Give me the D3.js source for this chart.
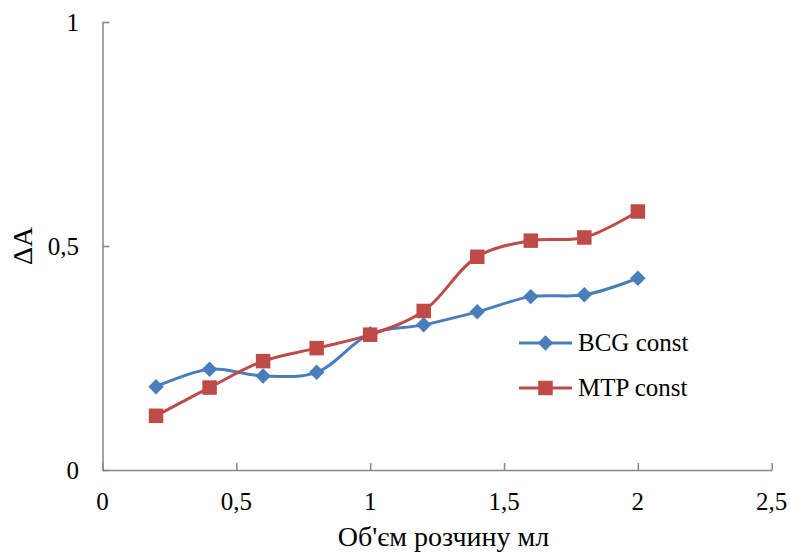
<!DOCTYPE html>
<html>
<head>
<meta charset="utf-8">
<script src="https://cdn.jsdelivr.net/npm/d3@7"></script>
<style>
  html, body { margin: 0; padding: 0; background: #fff; }
</style>
</head>
<body>
<svg id="chart" width="790" height="553"></svg>
<script>
// Volume of solution, ml
const volumes = [0.2, 0.4, 0.6, 0.8, 1.0, 1.2, 1.4, 1.6, 1.8, 2.0];
// ΔA for each series
const bcgValues = [0.186, 0.225, 0.210, 0.218, 0.304, 0.324, 0.353, 0.387, 0.391, 0.428];
const mtpValues = [0.121, 0.184, 0.243, 0.272, 0.302, 0.355, 0.476, 0.512, 0.519, 0.577];
const seriesNames = ["BCG const", "MTP const"];
const xTicks = [0, 0.5, 1, 1.5, 2, 2.5];
const yTicks = [0, 0.5, 1];
const xTitle = "Об'єм розчину мл";
const yTitle = "ΔA";

const FONT = "Liberation Serif";
const fmt = d => String(d).replace(".", ",");

const svg = d3.select("#chart");
const margin = { left: 102.5, right: 790 - 771.7, top: 22, bottom: 553 - 470 };
const x = d3.scaleLinear().domain([0, 2.5]).range([margin.left, 790 - margin.right]);
const y = d3.scaleLinear().domain([0, 1]).range([553 - margin.bottom, margin.top]);

const axisColor = "#868686";

// Diamond drawn as a square rotated 45°, equal width and height
const diamond = {
  draw(ctx, size) {
    const r = Math.sqrt(size / 2);
    ctx.moveTo(0, -r); ctx.lineTo(r, 0); ctx.lineTo(0, r); ctx.lineTo(-r, 0); ctx.closePath();
  }
};

// X axis with ticks pointing inward
const gx = svg.append("g").attr("transform", `translate(0,${y(0)})`)
  .call(d3.axisTop(x).tickValues(xTicks).tickSize(7).tickSizeOuter(0).tickFormat(""));
gx.select(".domain").attr("stroke", axisColor).attr("stroke-width", 1.5);
gx.selectAll(".tick line").attr("stroke", axisColor).attr("stroke-width", 1.5);
svg.append("g").selectAll("text").data(xTicks).join("text")
  .attr("x", d => x(d)).attr("y", y(0) + 40)
  .attr("text-anchor", "middle").attr("font-size", 25).attr("font-family", FONT)
  .text(fmt);

// Y axis with ticks pointing inward
const gy = svg.append("g").attr("transform", `translate(${x(0)},0)`)
  .call(d3.axisRight(y).tickValues(yTicks).tickSize(7).tickSizeOuter(0).tickFormat(""));
gy.select(".domain").attr("stroke", axisColor).attr("stroke-width", 1.5);
gy.selectAll(".tick line").attr("stroke", axisColor).attr("stroke-width", 1.5);
svg.append("g").selectAll("text").data(yTicks).join("text")
  .attr("x", x(0) - 23.5).attr("y", d => y(d) + 8.7)
  .attr("text-anchor", "end").attr("font-size", 25).attr("font-family", FONT)
  .text(fmt);

// Axis titles
svg.append("text").attr("x", 443.5).attr("y", 546)
  .attr("text-anchor", "middle").attr("font-size", 28).attr("font-family", FONT).text(xTitle);
svg.append("text").attr("transform", `translate(32,${y(0.5)}) rotate(-90)`)
  .attr("text-anchor", "middle").attr("font-size", 28).attr("font-family", FONT).text(yTitle);

const series = [
  { name: seriesNames[0], values: bcgValues, color: "#4a7ebb", marker: diamond, size: 120, legendY: 343 },
  { name: seriesNames[1], values: mtpValues, color: "#be4b48", marker: d3.symbolSquare, size: 210, legendY: 388 }
];

const line = d3.line()
  .x((d, i) => x(volumes[i]))
  .y(d => y(d))
  .curve(d3.curveCatmullRom.alpha(0.5));

series.forEach(s => {
  svg.append("path").datum(s.values)
    .attr("fill", "none").attr("stroke", s.color).attr("stroke-width", 3)
    .attr("stroke-linejoin", "round").attr("d", line);
  svg.append("g").selectAll("path").data(s.values).join("path")
    .attr("transform", (d, i) => `translate(${x(volumes[i])},${y(d)})`)
    .attr("d", d3.symbol().type(s.marker).size(s.size))
    .attr("fill", s.color);
});

// Legend
series.forEach(s => {
  const g = svg.append("g").attr("transform", `translate(519,${s.legendY})`);
  g.append("line").attr("x1", 0).attr("x2", 53).attr("stroke", s.color).attr("stroke-width", 3);
  g.append("path").attr("transform", "translate(26.5,0)")
    .attr("d", d3.symbol().type(s.marker).size(s.size)).attr("fill", s.color);
  g.append("text").attr("x", 59).attr("y", 7.5).attr("font-size", 25).attr("font-family", FONT).text(s.name);
});
</script>
</body>
</html>
